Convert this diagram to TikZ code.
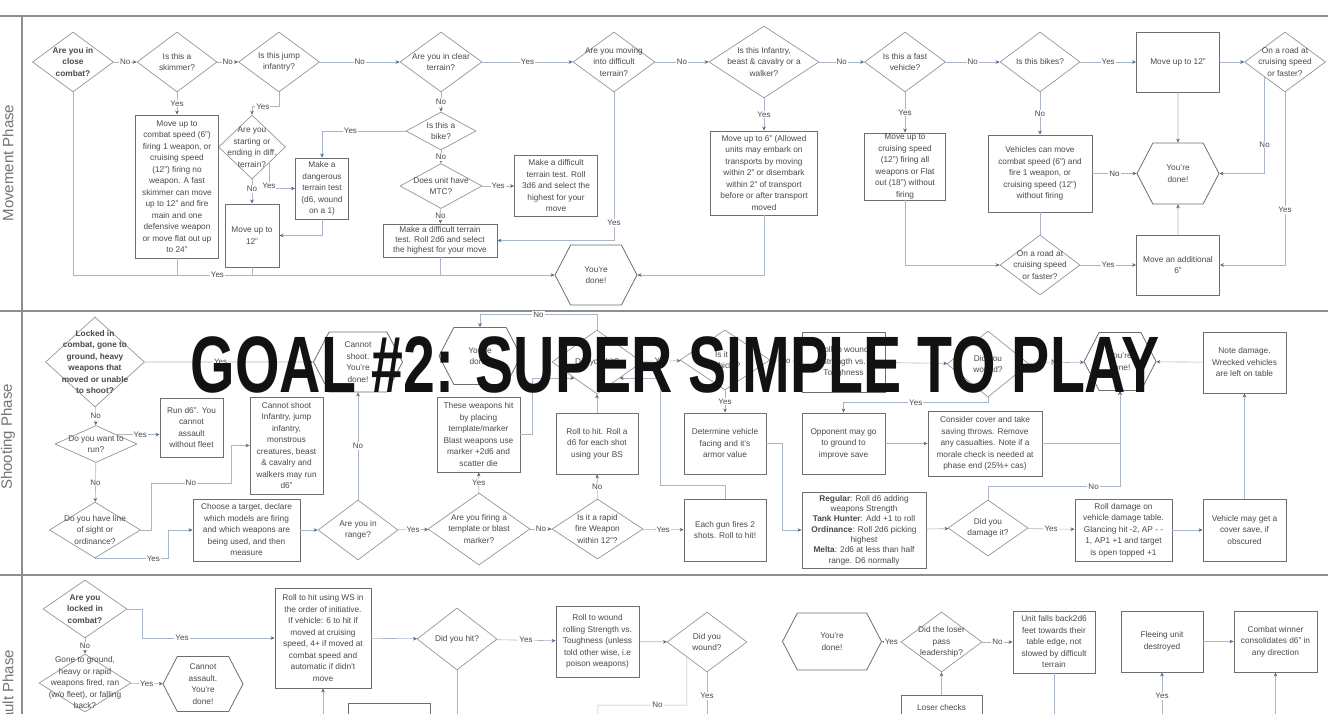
\documentclass[tikz,border=0pt]{standalone}
\usepackage{fontspec}
\usepackage{graphicx}
\setmainfont{Liberation Sans}
\usetikzlibrary{shapes.geometric,shapes.symbols,arrows.meta}
\definecolor{txtc}{HTML}{4A4A4A}
\definecolor{boxc}{HTML}{6E6E6E}
\definecolor{decc}{HTML}{959595}
\definecolor{linec}{HTML}{A9B6C8}
\definecolor{arrc}{HTML}{4F6A93}
\definecolor{lanec}{HTML}{8E8E8E}
\newcommand{\ftxt}{\fontsize{8.3}{11.5}\selectfont}
\newcommand{\flbl}{\fontsize{8}{9}\selectfont}

\begin{document}
\begin{tikzpicture}[x=1pt,y=-1pt,
  every node/.style={font=\ftxt,text=txtc,align=center},
  dec/.style 2 args={diamond,draw=decc,line width=0.7pt,fill=white,inner sep=0pt,minimum width=#1pt,minimum height=#2pt},
  dtx/.style={font=\ftxt,text=txtc,align=center,inner sep=0pt},
  blk/.style 2 args={rectangle,draw=boxc,line width=0.9pt,fill=white,inner sep=1pt,minimum width=#1pt,minimum height=#2pt},
  hexa/.style 2 args={signal,signal to=east and west,signal pointer angle=125,draw=boxc,line width=0.8pt,fill=white,inner sep=0pt,minimum width=#1pt,minimum height=#2pt},
  lbl/.style={font=\flbl,fill=white,inner sep=1pt,text=txtc},
  flow/.style={draw=linec,line width=0.6pt,-{Stealth[length=4pt,width=3.6pt,color=arrc]}},
  link/.style={draw=linec,line width=0.6pt},
  lane/.style={draw=lanec,line width=1.6pt},
  phase/.style={font=\fontsize{15}{15}\selectfont,text=black!55,rotate=90}
]
\useasboundingbox (0,0) rectangle (1328,714);
\clip (0,0) rectangle (1328,714);

\draw[lane] (0,16) -- (1328,16);
\draw[lane] (0,311) -- (1328,311);
\draw[lane] (0,575) -- (1328,575);
\draw[lane] (22,16) -- (22,714);
\node[phase] (pmove) at (8,163) {Movement Phase};
\node[phase] (pshoot) at (8,437) {Shooting Phase};
\node[phase] (passault) at (8,698) {Assault Phase};

% movement
\node[dec={81}{60},label={[dtx,font=\ftxt\bfseries]center:Are you in\\close\\combat?}] (d1) at (73,62) {};
\node[dec={80}{60},label={[dtx]center:Is this a\\skimmer?}] (d2) at (177,62) {};
\node[dec={81}{60},label={[dtx]center:Is this jump\\infantry?}] (d3) at (279,62) {};
\node[dec={82}{60},label={[dtx]center:Are you in clear\\terrain?}] (d4) at (441,62) {};
\node[dec={67}{64},label={[dtx]center:Are you\\starting or\\ending in diff.\\terrain?}] (d5) at (252,147) {};
\node[dec={70}{38},label={[dtx]center:Is this a\\bike?}] (d6) at (441,131) {};
\node[dec={82}{45},label={[dtx]center:Does unit have\\MTC?}] (d7) at (441,186) {};
\node[dec={82}{60},label={[dtx]center:Are you moving\\into difficult\\terrain?}] (d8) at (614,62) {};
\node[dec={110}{72},label={[dtx]center:Is this Infantry,\\beast \& cavalry or a\\walker?}] (d9) at (764,62) {};
\node[dec={81}{60},label={[dtx]center:Is this a fast\\vehicle?}] (d10) at (905,62) {};
\node[dec={80}{60},label={[dtx]center:Is this bikes?}] (d11) at (1040,62) {};
\node[dec={81}{60},label={[dtx]center:On a road at\\cruising speed\\or faster?}] (d12) at (1285,62) {};
\node[dec={80}{60},label={[dtx]center:On a road at\\cruising speed\\or faster?}] (d13) at (1040,265) {};
\node[blk={83}{143}] (b1) at (177,186.5) {Move up to\\combat speed (6")\\firing 1 weapon, or\\cruising speed\\(12") firing no\\weapon. A fast\\skimmer can move\\up to 12" and fire\\main and one\\defensive weapon\\or move flat out up\\to 24"};
\node[blk={54}{63}] (b2) at (252,235.5) {Move up to\\12"};
\node[blk={53}{61}] (b3) at (322,188.5) {Make a\\dangerous\\terrain test\\(d6, wound\\on a 1)};
\node[blk={114}{33},font=\fontsize{8.3}{10}\selectfont] (b4) at (440,240.5) {Make a difficult terrain\\test. Roll 2d6 and select\\the highest for your move};
\node[blk={83}{61}] (b5) at (556,186) {Make a difficult\\terrain test. Roll\\3d6 and select the\\highest for your\\move};
\node[blk={107}{84}] (b6) at (764,173) {Move up to 6" (Allowed\\units may embark on\\transports by moving\\within 2" or disembark\\within 2" of transport\\before or after transport\\moved};
\node[blk={83}{60}] (b7) at (1178,62) {Move up to 12"};
\node[blk={81}{67}] (b8) at (905,166.5) {Move up to\\cruising speed\\(12") firing all\\weapons or Flat\\out (18") without\\firing};
\node[blk={104}{77}] (b9) at (1040,173.5) {Vehicles can move\\combat speed (6") and\\fire 1 weapon, or\\cruising speed (12")\\without firing};
\node[blk={83}{60}] (b10) at (1178,265) {Move an additional\\6"};
\node[hexa={82}{60}] (h1) at (596,275) {You're\\done!};
\node[hexa={82}{61}] (h2) at (1178,173.5) {You're\\done!};

\draw[flow] (d1) -- node[lbl]{No} (d2);
\draw[flow] (d2) -- node[lbl]{No} (d3);
\draw[flow] (d3) -- node[lbl]{No} (d4);
\draw[flow] (d4) -- node[lbl]{Yes} (d8);
\draw[flow] (d8) -- node[lbl]{No} (d9);
\draw[flow] (d9) -- node[lbl]{No} (d10);
\draw[flow] (d10) -- node[lbl]{No} (d11);
\draw[flow] (d11) -- node[lbl]{Yes} (b7);
\draw[flow] (b7) -- (d12);
\draw[flow] (d2) -- node[lbl]{Yes} (b1);
\draw[flow] (d3.south) -- ++(0,14) -| node[lbl,pos=0.3]{Yes} (d5.north);
\draw[flow] (d5) -- node[lbl,pos=0.4]{No} (b2);
\draw[flow] (d5.south east) |- node[lbl,pos=0.45]{Yes} (b3.west);
\draw[flow] (d6) -| node[lbl,pos=0.33]{Yes} (b3);
\draw[flow] (b3) |- (b2);
\draw[flow] (d4) -- node[lbl]{No} (d6);
\draw[flow] (d6) -- node[lbl]{No} (d7);
\draw[flow] (d7) -- node[lbl]{No} (b4);
\draw[flow] (d7) -- node[lbl]{Yes} (b5);
\draw[flow] (d8) |- node[lbl,pos=0.44]{Yes} (b4);
\draw[flow] (d1) |- node[lbl,pos=0.65]{Yes} (h1);
\draw[link] (b1) -- (b1 |- h1);
\draw[link] (b2) -- (b2 |- h1);
\draw[link] (b4) -- (b4 |- h1);
\draw[flow] (b6) |- (h1);
\draw[flow] (d9) -- node[lbl]{Yes} (b6);
\draw[flow] (d10) -- node[lbl]{Yes} (b8);
\draw[flow] (b8) |- (d13);
\draw[flow] (d11) -- node[lbl]{No} (b9);
\draw[flow] (b9) -- node[lbl]{No} (h2);
\draw[link] (b9) -- (d13);
\draw[flow] (b7) -- (h2);
\draw[flow] (d12.south west) |- node[lbl,pos=0.35]{No} (h2);
\draw[flow] (d12) |- node[lbl,pos=0.34]{Yes} (b10);
\draw[flow] (d13) -- node[lbl]{Yes} (b10);
\draw[flow] (b10) -- (h2);

% shooting
\node[dec={99}{90},label={[dtx,font=\ftxt\bfseries]center:Locked in\\combat, gone to\\ground, heavy\\weapons that\\moved or unable\\to shoot?}] (s1) at (95,362) {};
\node[hexa={89}{60}] (h3) at (358,362) {Cannot\\shoot.\\You're\\done!};
\node[dec={82}{37},label={[dtx]center:Do you want to\\run?}] (s2) at (96,444) {};
\node[blk={63}{59}] (s3) at (191.5,427.5) {Run d6".  You\\cannot\\assault\\without fleet};
\node[dec={91}{56},label={[dtx]center:Do you have line\\of sight or\\ordinance?}] (s4) at (95,530) {};
\node[blk={73}{97}] (s5) at (286.5,445.5) {Cannot shoot\\Infantry, jump\\infantry,\\monstrous\\creatures, beast\\\& cavalry and\\walkers may run\\d6"};
\node[blk={107}{62}] (s6) at (246.5,530) {Choose a target, declare\\which models are firing\\and which weapons are\\being used, and then\\measure};
\node[dec={80}{60},label={[dtx]center:Are you in\\range?}] (s7) at (358,530) {};
\node[dec={102}{72},label={[dtx]center:Are you firing a\\template or blast\\marker?}] (s8) at (479,529) {};
\node[blk={83}{75}] (s9) at (478.5,434.5) {These weapons hit\\by placing\\template/marker\\Blast weapons use\\marker +2d6 and\\scatter die};
\node[dec={91}{60},label={[dtx]center:Is it a rapid\\fire Weapon\\within 12"?}] (s10) at (597.5,529) {};
\node[blk={82}{61}] (s11) at (597,443.5) {Roll to hit. Roll a\\d6 for each shot\\using your BS};
\node[blk={82}{62}] (s12) at (725,530) {Each gun fires 2\\shots. Roll to hit!};
\node[dec={90}{64},label={[dtx]center:Did you hit?}] (s13) at (597,362) {};
\node[hexa={82}{57}] (h4) at (480,356) {You're\\done!};
\node[dec={90}{60},label={[dtx]center:Is it a\\vehicle?}] (s14) at (725,360) {};
\node[blk={82}{61}] (s15) at (725,443.5) {Determine vehicle\\facing and it's\\armor value};
\node[blk={83}{60}] (s16) at (843.5,362) {Roll to wound\\Strength vs.\\Toughness};
\node[blk={83}{61}] (s17) at (843.5,443.5) {Opponent may go\\to ground to\\improve save};
\node[dec={82}{66},label={[dtx]center:Did you\\wound?}] (s18) at (988,364) {};
\node[hexa={72}{58}] (h5) at (1120,361.5) {You're\\done!};
\node[blk={83}{61}] (s19) at (1244.5,362.5) {Note damage.\\Wrecked vehicles\\are left on table};
\node[blk={114}{65}] (s20) at (985,443.5) {Consider cover and take\\saving throws. Remove\\any casualties. Note if a\\morale check is needed at\\phase end (25\%+ cas)};
\node[dec={80}{56},label={[dtx]center:Did you\\damage it?}] (s21) at (988,528) {};
\node[blk={124}{76},font=\fontsize{8.3}{10.3}\selectfont] (s22) at (864,530) {\textbf{Regular}: Roll d6 adding\\weapons Strength\\\textbf{Tank Hunter}:  Add +1 to roll\\\textbf{Ordinance}:  Roll 2d6 picking\\highest\\\textbf{Melta}: 2d6 at less than half\\range. D6 normally};
\node[blk={97}{62}] (s23) at (1123.5,530) {Roll damage on\\vehicle damage table.\\Glancing hit -2, AP - -\\1, AP1 +1 and target\\is open topped +1};
\node[blk={83}{62}] (s24) at (1244.5,530) {Vehicle may get a\\cover save, if\\obscured};

\draw[flow] (s1) -- node[lbl,pos=0.45]{Yes} (h3);
\draw[flow] (s1) -- node[lbl]{No} (s2);
\draw[flow] (s2.north east) -- node[lbl,pos=0.55]{Yes} (s2.north east -| s3.west);
\draw[flow] (s2) -- node[lbl]{No} (s4);
\draw[flow] (s4.east) -- ++(10,0) |- node[lbl,pos=0.75]{No} ++(80,-47) |- (s5.west);
\draw[flow] (s4.south) -- node[lbl,pos=0.8]{Yes} ++(73,0) |- (s6.west);
\draw[flow] (s6) -- (s7);
\draw[flow] (s7) -- node[lbl]{No} (h3);
\draw[flow] (s7) -- node[lbl]{Yes} (s8);
\draw[flow] (s8) -- node[lbl]{Yes} (s9);
\draw[flow] (s8) -- node[lbl]{No} (s10);
\draw[flow] (s10) -- node[lbl]{No} (s11);
\draw[flow] (s10) -- node[lbl]{Yes} (s12);
\draw[flow] (s11) -- (s13);
\draw[flow] (s12.north) -- ++(0,-13) -- ++(-65,0) |- (s13.south east);
\draw[flow] (s9.east) -- ++(12,0) |- (s13.south west);
\draw[flow] (s13.north) -- ++(0,-15) -| node[lbl,pos=0.25]{No} (h4.north);
\draw[flow] (s13) -- node[lbl]{Yes} (s14);
\draw[flow] (s14) -- node[lbl]{Yes} (s15);
\draw[flow] (s14) -- node[lbl]{No} (s16);
\draw[flow] (s16) -- (s18);
\draw[flow] (s18.south) -- ++(0,5) -| node[lbl,pos=0.25]{Yes} (s17.north);
\draw[flow] (s18) -- node[lbl]{No} (h5);
\draw[flow] (s19) -- (h5);
\draw[flow] (s17) -- (s20);
\draw[flow] (s20) -| (h5);
\draw[flow] (s21.north) -- ++(0,-13) -| node[lbl,pos=0.4]{No} (h5.south);
\draw[flow] (s15.east) -- ++(16,0) |- (s22.west);
\draw[flow] (s22) -- (s21);
\draw[flow] (s21) -- node[lbl]{Yes} (s23);
\draw[flow] (s23) -- (s24);
\draw[flow] (s24) -- (s19);

% assault
\node[dec={84}{58},label={[dtx,font=\ftxt\bfseries]center:Are you\\locked in\\combat?}] (a1) at (85,609) {};
\node[blk={96}{100}] (a2) at (323,638) {Roll to hit using WS in\\the order of initiative.\\If vehicle: 6 to hit if\\moved at cruising\\speed, 4+ if moved at\\combat speed and\\automatic if didn't\\move};
\node[dec={92}{58},label={[dtx]center:Gone to ground,\\heavy or rapid\\weapons fired, ran\\(w/o fleet), or falling\\back?}] (a3) at (85,683) {};
\node[hexa={80}{55}] (h6) at (203,684) {Cannot\\assault.\\You're\\done!};
\node[dec={80}{62},label={[dtx]center:Did you hit?}] (a4) at (457,639) {};
\node[blk={83}{71}] (a5) at (597.5,641.5) {Roll to wound\\rolling Strength vs.\\Toughness (unless\\told other wise, i.e\\poison weapons)};
\node[dec={80}{60},label={[dtx]center:Did you\\wound?}] (a6) at (707,642) {};
\node[hexa={99}{57}] (h7) at (832,641.5) {You're\\done!};
\node[dec={81}{60},label={[dtx]center:Did the loser\\pass\\leadership?}] (a7) at (941.5,642) {};
\node[blk={82}{62}] (a8) at (1054,642) {Unit falls back2d6\\feet towards their\\table edge, not\\slowed by difficult\\terrain};
\node[blk={81}{40},anchor=north,text depth=16pt] (a9) at (941.5,695) {Loser checks};
\node[blk={82}{61}] (a10) at (1162,641.5) {Fleeing unit\\destroyed};
\node[blk={83}{61}] (a11) at (1275.5,641.5) {Combat winner\\consolidates d6" in\\any direction};
\node[blk={82}{30},anchor=north] (a12) at (389,703) {};
\coordinate (e1) at (323,725);
\coordinate (e2) at (707,725);
\coordinate (e3) at (598,725);
\coordinate (e4) at (457,725);
\coordinate (e5) at (1054,725);
\coordinate (e6) at (1162,725);
\coordinate (e7) at (1275.5,725);

\draw[flow] (a1.east) -- ++(15,0) |- node[lbl,pos=0.65]{Yes} (a2.west);
\draw[flow] (a1) -- node[lbl]{No} (a3);
\draw[flow] (a3) -- node[lbl]{Yes} (h6);
\draw[flow] (a2) -- (a4);
\draw[flow] (a4) -- node[lbl]{Yes} (a5);
\draw[flow] (a5) -- (a6);
\draw[link] (a6) -- node[lbl,pos=0.45]{Yes} (e2);
\draw[link] (a6.south west) -- ++(0,48) -- node[lbl,pos=0.33]{No} ++(-89,0) -- (e3);
\draw[link] (a4) -- (e4);
\draw[flow] (e1) -- (a2);
\draw[flow] (a7) -- node[lbl]{Yes} (h7);
\draw[flow] (a7) -- node[lbl]{No} (a8);
\draw[flow] (a9) -- (a7);
\draw[link] (a8) -- (e5);
\draw[flow] (e6) -- node[lbl,pos=0.55]{Yes} (a10);
\draw[flow] (a10) -- (a11);
\draw[flow] (e7) -- (a11);

\node[font=\bfseries\fontsize{80}{80}\selectfont,text=black!93,anchor=base] (goal) at (675,392) {\scalebox{0.715}[1]{GOAL \#2: SUPER SIMPLE TO PLAY}};
\end{tikzpicture}
\end{document}
